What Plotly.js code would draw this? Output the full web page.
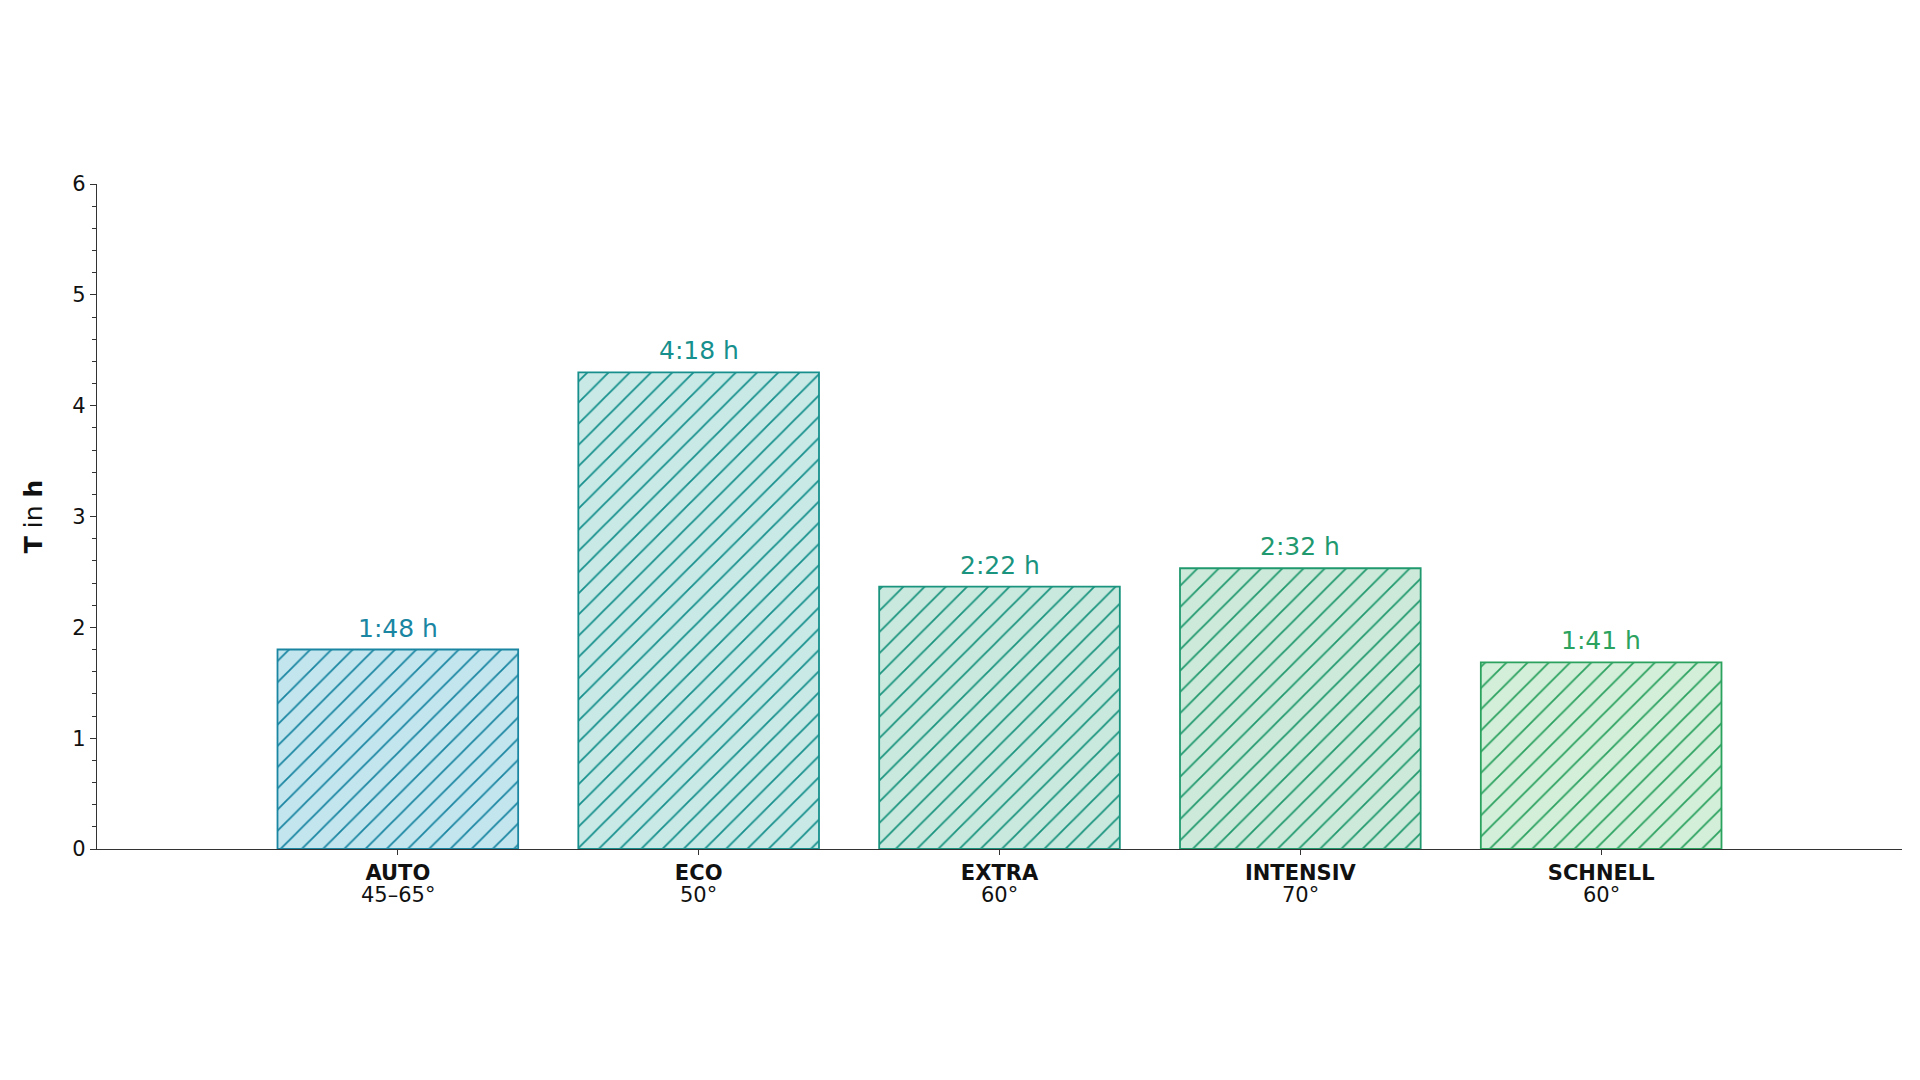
<!DOCTYPE html>
<html>
<head>
<meta charset="utf-8">
<script src="https://cdn.plot.ly/plotly-3.0.1.min.js"></script>
<style>
html,body{margin:0;padding:0;background:#fff;}
#chart{width:1920px;height:1080px;}
</style>
</head>
<body>
<div id="chart"></div>
<script>
// Data
const programs = ["AUTO", "ECO", "EXTRA", "INTENSIV", "SCHNELL"];
const temperatures = ["45–65°", "50°", "60°", "70°", "60°"];
const hours = [1.8, 4.3, 2.3667, 2.5333, 1.6833];
const durationLabels = ["1:48 h", "4:18 h", "2:22 h", "2:32 h", "1:41 h"];
const yTicks = [0, 1, 2, 3, 4, 5, 6];

// Styles
const edgeColors = ["#1a86a2", "#17908d", "#1a947e", "#21996f", "#2ca25f"];
const fillColors = ["#c3e5ee", "#c8e9e6", "#c9e8de", "#cce9d9", "#d3eed9"];
const FONT = "DejaVu Sans, Liberation Sans, sans-serif";

const idx = programs.map((_, i) => i);

const traces = idx.map(i => ({
  type: "bar",
  x: [i],
  y: [hours[i]],
  width: 0.8,
  marker: {
    color: fillColors[i],
    line: { color: edgeColors[i], width: 1.8 },
    pattern: {
      shape: "/",
      size: 15,
      solidity: 0.12,
      fgcolor: edgeColors[i],
      bgcolor: fillColors[i],
      fgopacity: 1,
      fillmode: "overlay"
    }
  },
  hoverinfo: "skip",
  showlegend: false
}));

const valueAnnotations = idx.map(i => ({
  x: i,
  y: hours[i],
  xref: "x",
  yref: "y",
  text: durationLabels[i],
  showarrow: false,
  yanchor: "bottom",
  xanchor: "center",
  yshift: 5,
  font: { family: FONT, size: 25, color: edgeColors[i] }
}));

const tempAnnotations = idx.map(i => ({
  x: i,
  y: 0,
  xref: "x",
  yref: "y",
  text: temperatures[i],
  showarrow: false,
  yanchor: "middle",
  xanchor: "center",
  yshift: -46,
  font: { family: FONT, size: 21, color: "#111111" }
}));

const tickText = idx.map(i => "<b>" + programs[i] + "</b>");

const layout = {
  width: 1920,
  height: 1080,
  paper_bgcolor: "#ffffff",
  plot_bgcolor: "#ffffff",
  margin: { l: 97, r: 18, t: 184, b: 231 },
  font: { family: FONT, color: "#111111" },
  barmode: "overlay",
  xaxis: {
    type: "linear",
    range: [-1, 5],
    tickvals: idx,
    ticktext: tickText,
    ticks: "outside",
    ticklen: 5,
    tickwidth: 1,
    tickcolor: "#333333",
    showline: true,
    linecolor: "#333333",
    linewidth: 1.2,
    showgrid: false,
    zeroline: false,
    tickfont: { family: FONT, size: 21, color: "#111111" },
    fixedrange: true
  },
  yaxis: {
    range: [0, 6],
    tickvals: yTicks,
    ticks: "outside",
    ticklen: 6,
    tickwidth: 1,
    tickcolor: "#333333",
    minor: { dtick: 0.2, ticks: "outside", ticklen: 3.5, tickcolor: "#333333", tickwidth: 1 },
    showline: true,
    linecolor: "#333333",
    linewidth: 1.2,
    showgrid: false,
    zeroline: false,
    tickfont: { family: FONT, size: 21, color: "#111111" },
    title: {
      text: "<b>T</b> in <b>h</b>",
      font: { family: FONT, size: 25, color: "#111111" },
      standoff: 22
    },
    automargin: false,
    fixedrange: true
  },
  annotations: valueAnnotations.concat(tempAnnotations)
};

Plotly.newPlot("chart", traces, layout, { displayModeBar: false, staticPlot: true });
</script>
</body>
</html>
